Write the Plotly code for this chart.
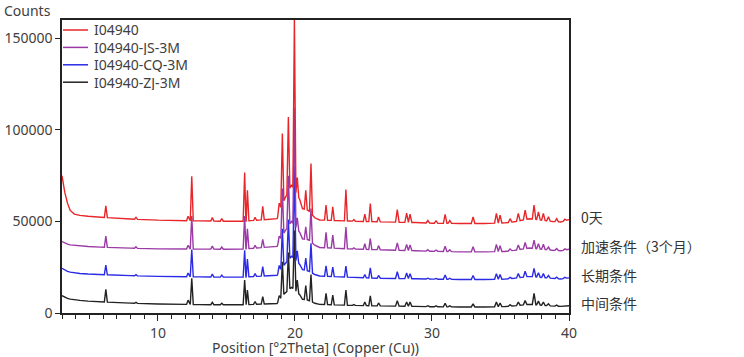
import numpy as np
import plotly.graph_objects as go

# ---------------- data ----------------
series_names = ["I04940", "I04940-JS-3M", "I04940-CQ-3M", "I04940-ZJ-3M"]
right_labels = ["0天", "加速条件（3个月）", "长期条件", "中间条件"]

# background / valley anchor points (2Theta) and counts for each pattern
bg_x = [3.0, 3.2, 3.4, 3.6, 3.9, 4.3, 4.9, 5.8, 8.0, 10.0, 13.0, 16.0, 18.7, 18.97,
        19.3, 19.75, 20.35, 20.55, 20.98, 21.45, 21.8, 24.0, 26.0, 28.8, 30.0, 32.0,
        33.8, 35.3, 36.0, 37.1, 38.8, 39.4, 40.0]
bg_red = [75000, 66000, 60000, 56000, 54000, 53300, 52800, 52300, 51300, 50700, 50300,
          50000, 51500, 58000, 63000, 70000, 62000, 57000, 56000, 52000, 50800, 50200,
          49800, 49400, 49000, 48900, 48900, 49200, 49800, 51500, 50000, 49700, 51000]
bg_purple = [39000, 38200, 37600, 37200, 36900, 36600, 36300, 36000, 35400, 35000, 34900,
             34800, 36400, 41000, 45000, 50000, 44000, 40500, 40000, 37000, 35800, 35000,
             34600, 34000, 33700, 33400, 33400, 33600, 34200, 35500, 34300, 34000, 34800]
bg_blue = [24400, 23400, 22700, 22300, 21900, 21600, 21300, 21000, 20400, 20000, 19700,
           19500, 20600, 24000, 27000, 31000, 26500, 23700, 23000, 21000, 20200, 19500,
           19000, 18700, 18500, 18300, 18300, 18500, 19000, 20000, 18900, 18600, 19200]
bg_black = [9500, 8600, 8000, 7600, 7200, 6900, 6500, 6100, 5400, 4900, 4600,
            4400, 5200, 8500, 11000, 14000, 10000, 7500, 7000, 5300, 4700, 4200,
            3900, 3600, 3400, 3300, 3300, 3500, 3900, 4800, 3800, 3600, 4000]

# diffraction peak positions (2Theta) and peak-top counts for each pattern
peak_pos = [6.2, 8.4, 12.2, 12.47, 13.97, 14.66, 16.33, 16.53, 17.09, 17.65, 18.85,
            19.08, 19.52, 19.96, 20.17, 20.79, 21.17, 22.27, 22.76, 23.72, 24.3, 25.1,
            25.5, 26.1, 27.47, 28.15, 28.4, 29.7, 30.3, 30.96, 31.3, 33.0, 34.7, 34.97,
            35.7, 36.3, 36.8, 37.45, 37.77, 38.13, 38.5, 39.1, 39.7]
top_red = [58500, 52200, 52800, 74700, 52200, 51600, 76700, 67000, 52200, 58300, 60000,
           98000, 107000, 161000, 74000, 67000, 81600, 59000, 58000, 67400, 51000, 54000,
           59800, 52500, 56500, 54500, 54000, 50500, 50300, 53800, 50500, 52500, 54400, 53500,
           51500, 54400, 56200, 58900, 55200, 54400, 52500, 51500, 51200]
top_purple = [42000, 36200, 37000, 52900, 36500, 36000, 52900, 46000, 37000, 40200, 42000,
              68000, 75000, 112000, 52000, 47000, 57000, 44000, 42500, 47000, 35600, 37800,
              40700, 36800, 38300, 37500, 37200, 34600, 34400, 36500, 34500, 36200, 37500, 36800,
              35000, 37200, 38500, 39800, 37800, 37500, 36000, 35200, 35000]
top_blue = [26200, 20900, 21800, 34700, 21200, 20700, 34300, 29500, 21500, 25300, 26000,
            46000, 51000, 80000, 34000, 30000, 38000, 25800, 25000, 25600, 19800, 21000,
            24700, 20500, 22500, 21800, 21500, 19000, 18900, 20700, 19000, 20500, 21500, 21000,
            19500, 21500, 22800, 24400, 22000, 21500, 20500, 19600, 19500]
top_black = [12900, 5800, 7000, 18900, 5800, 5300, 18000, 12500, 6300, 8900, 9500,
             28000, 33000, 45000, 18000, 15000, 21000, 10700, 9800, 12500, 4600, 6000,
             9300, 5500, 6700, 6000, 6000, 4000, 3900, 5300, 3900, 5000, 6000, 5500,
             4500, 6000, 6800, 10700, 6500, 6000, 5000, 4300, 4200]

colors = ["#e8262a", "#9b3aa6", "#2a2ae6", "#222222"]


def pattern(bg, tops):
    """Polyline vertices: background anchors plus foot/top/foot of each peak."""
    xs = list(bg_x)
    ys = list(bg)
    for p, t in zip(peak_pos, tops):
        hw = 0.11 if p < 26 else 0.13
        for fx in (p - hw, p + hw):
            xs.append(fx)
            ys.append(float(np.interp(fx, bg_x, bg)))
        xs.append(p)
        ys.append(t)
    order = np.argsort(xs, kind="stable")
    return np.array(xs)[order], np.array(ys)[order]


all_bg = [bg_red, bg_purple, bg_blue, bg_black]
all_tops = [top_red, top_purple, top_blue, top_black]

fig = go.Figure()
# draw black first so that red is on top
for i in [3, 2, 1, 0]:
    x, y = pattern(all_bg[i], all_tops[i])
    fig.add_trace(go.Scatter(x=x, y=y, mode="lines", name=series_names[i],
                             showlegend=False,
                             line=dict(color=colors[i], width=1.4)))

font_main = "Noto Sans, Open Sans, sans-serif"
txt_col = "#404040"

# plot area in pixels (used to lay out the legend)
L, R, T, B = 62, 175, 20, 44
PW, PH = 744 - L - R, 357 - T - B

# legend (drawn as swatches + labels, top-left inside plot)
row0, row_gap = 10, 17.4
for k, name in enumerate(series_names):
    yp = 1 - (row0 + k * row_gap) / PH
    fig.add_shape(type="line", xref="paper", yref="paper",
                  x0=1 / PW, x1=26 / PW, y0=yp, y1=yp,
                  line=dict(color=colors[k], width=1.5))
    fig.add_annotation(x=30 / PW, xref="paper", xanchor="left",
                       y=yp, yref="paper", yanchor="middle",
                       text=name, showarrow=False, height=15,
                       font=dict(family=font_main, size=14, color=txt_col))

for i in range(4):
    fig.add_annotation(x=1, xref="paper", xshift=10, xanchor="left",
                       y=all_bg[i][-1], yref="y", yshift=3,
                       text=right_labels[i], showarrow=False,
                       font=dict(family="Noto Sans CJK SC", size=14, color="#333333"))

fig.add_annotation(x=0, xref="paper", xshift=-60, xanchor="left",
                   y=1, yref="paper", yshift=10, yanchor="middle",
                   text="Counts", showarrow=False,
                   font=dict(family=font_main, size=14, color=txt_col))

fig.update_layout(
    width=744, height=357,
    margin=dict(l=L, r=R, t=T, b=B),
    paper_bgcolor="white", plot_bgcolor="white",
    font=dict(family=font_main, size=14, color=txt_col),
    showlegend=False,
    xaxis=dict(range=[3, 40], tickvals=[10, 20, 30, 40], ticks="outside", ticklen=6,
               tickcolor="#222", tickwidth=1.2, automargin=False,
               minor=dict(dtick=1, ticks="outside", ticklen=4, tickcolor="#222", tickwidth=1),
               showline=True, linecolor="#222", linewidth=1.5, mirror=True,
               showgrid=False, zeroline=False,
               title=dict(text="Position [°2Theta] (Copper (Cu))", standoff=3,
                          font=dict(size=14, color=txt_col))),
    yaxis=dict(range=[0, 160000], tickvals=[0, 50000, 100000, 150000], tickformat="d",
               ticks="outside", ticklen=5, tickcolor="#222", tickwidth=1.2, automargin=False,
               showline=True, linecolor="#222", linewidth=1.5, mirror=True,
               showgrid=False, zeroline=False),
)

fig.write_html("out.html", config={"displayModeBar": False},
               post_script="document.body.style.margin='0';")
